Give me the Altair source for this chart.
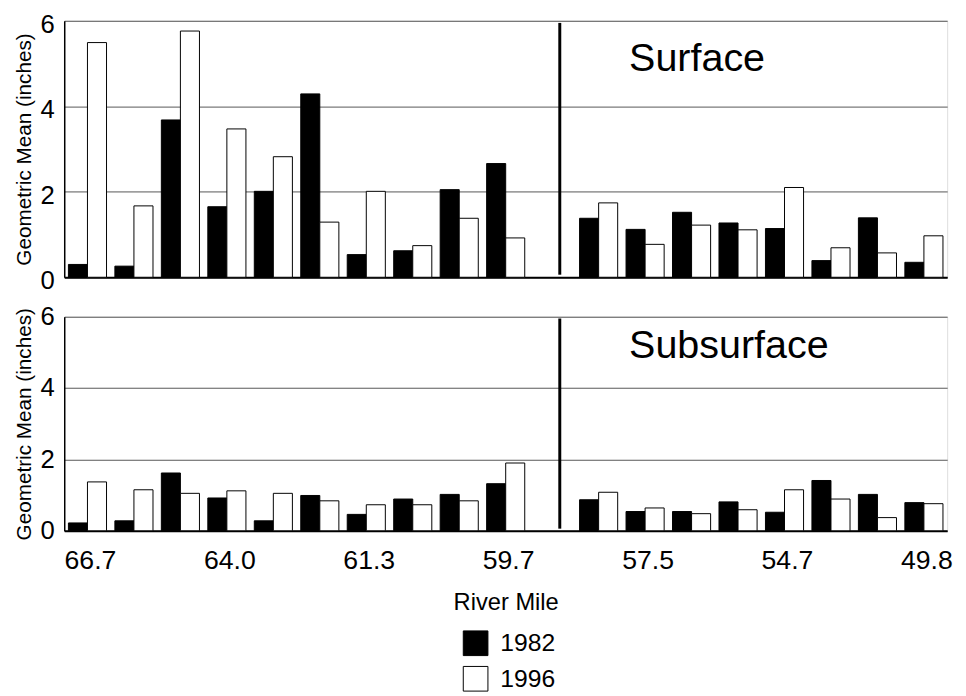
import altair as alt
import pandas as pd

FONT = "Liberation Sans"

# x-axis slots (one empty slot, index 10, holds the divider)
mile_labels = ["66.7", "", "", "64.0", "", "", "61.3", "", "", "59.7", "",
               "", "57.5", "", "", "54.7", "", "", "49.8"]
gap_slot = 10
years = ["1982", "1996"]

surface_1982 = [0.30, 0.26, 3.68, 1.65, 2.01, 4.29, 0.53, 0.62, 2.05, 2.66,
                1.38, 1.12, 1.52, 1.27, 1.14, 0.39, 1.39, 0.35]
surface_1996 = [5.49, 1.67, 5.76, 3.47, 2.82, 1.29, 2.01, 0.74, 1.38, 0.92,
                1.74, 0.77, 1.22, 1.11, 2.10, 0.69, 0.57, 0.97]
subsurface_1982 = [0.22, 0.28, 1.62, 0.92, 0.28, 0.99, 0.46, 0.89, 1.02, 1.32,
                   0.87, 0.54, 0.54, 0.81, 0.52, 1.41, 1.02, 0.79]
subsurface_1996 = [1.37, 1.15, 1.05, 1.12, 1.05, 0.84, 0.73, 0.73, 0.84, 1.90,
                   1.08, 0.64, 0.48, 0.59, 1.15, 0.89, 0.37, 0.76]

site_slots = [s for s in range(len(mile_labels)) if s != gap_slot]
label_expr = "[" + ",".join("'%s'" % l for l in mile_labels) + "][datum.value]"
Y_TITLE = "Geometric Mean (inches)"


def make_df(v82, v96):
    rows = []
    for slot, a, b in zip(site_slots, v82, v96):
        rows.append({"slot": slot, "year": years[0], "value": a})
        rows.append({"slot": slot, "year": years[1], "value": b})
    return pd.DataFrame(rows)


def panel(df, label, height, show_x, y_label_offset):
    x_scale = alt.Scale(domain=list(range(len(mile_labels))), paddingInner=0.18, paddingOuter=0.09)
    y_scale = alt.Scale(domain=[0, 6], nice=False)
    x_title = "River Mile" if show_x else ""
    x_axis = alt.Axis(labelExpr=label_expr, labelAngle=0, ticks=False, tickSize=0,
                      labels=show_x, domainColor="black", domainWidth=2, grid=False,
                      labelFontSize=27, labelPadding=17, labelOffset=3, labelFont=FONT,
                      labelColor="black",
                      titleFontSize=24, titlePadding=18, titleFont=FONT,
                      titleFontWeight="normal", titleColor="black")
    y_axis = alt.Axis(values=[0, 2, 4, 6], ticks=False, tickSize=0, domainColor="black",
                      domainWidth=1.5, grid=True, gridColor="#555555", gridWidth=1,
                      labelFontSize=26, labelPadding=10, labelOffset=y_label_offset,
                      labelFont=FONT, labelColor="black",
                      titleFontSize=21, titlePadding=6, titleFont=FONT,
                      titleFontWeight="normal", titleColor="black")
    bars = alt.Chart(df).mark_bar(stroke="black", strokeWidth=1).encode(
        x=alt.X("slot:O", scale=x_scale, axis=x_axis, title=x_title),
        xOffset=alt.XOffset("year:N", scale=alt.Scale(domain=years, paddingInner=0, paddingOuter=0)),
        y=alt.Y("value:Q", scale=y_scale, axis=y_axis, title=Y_TITLE),
        color=alt.Color("year:N", scale=alt.Scale(domain=years, range=["black", "white"]),
                        legend=alt.Legend(title=None, orient="none", legendX=404, legendY=618,
                                          direction="vertical", symbolType="square",
                                          symbolSize=625, symbolStrokeColor="black",
                                          symbolStrokeWidth=1, symbolOpacity=1,
                                          labelFontSize=25, labelFont=FONT, labelColor="black",
                                          labelOffset=12, rowPadding=6)),
    )
    divider = alt.Chart(pd.DataFrame({"slot": [gap_slot], "top": [5.95], "bottom": [0.06]})).mark_rule(
        color="black", strokeWidth=3
    ).encode(
        x=alt.X("slot:O", bandPosition=0.7, title=x_title),
        y=alt.Y("top:Q", title=Y_TITLE),
        y2="bottom:Q",
    )
    text = alt.Chart(pd.DataFrame({"slot": [12], "ypos": [4.83], "label": [label]})).mark_text(
        align="left", baseline="alphabetic", fontSize=40, font=FONT, color="black"
    ).encode(
        x=alt.X("slot:O", bandPosition=0.08, title=x_title),
        y=alt.Y("ypos:Q", title=Y_TITLE),
        text="label:N",
    )
    return alt.layer(bars, divider, text).properties(width=895, height=height)


top = panel(make_df(surface_1982, surface_1996), "Surface", 260, False, 3.5)
bottom = panel(make_df(subsurface_1982, subsurface_1996), "Subsurface", 217, True, 0)

chart = alt.vconcat(top, bottom, spacing=40, bounds="flush").properties(
    padding={"left": 5, "top": -1.8, "right": 5, "bottom": 5}
).configure_view(
    stroke="#555555", strokeWidth=1
).configure_axis(
    labelFont=FONT, titleFont=FONT, labelColor="black", titleColor="black",
    titleFontWeight="normal"
).configure(background="white")

chart.save("out.html", embed_options={"renderer": "svg", "actions": False})
